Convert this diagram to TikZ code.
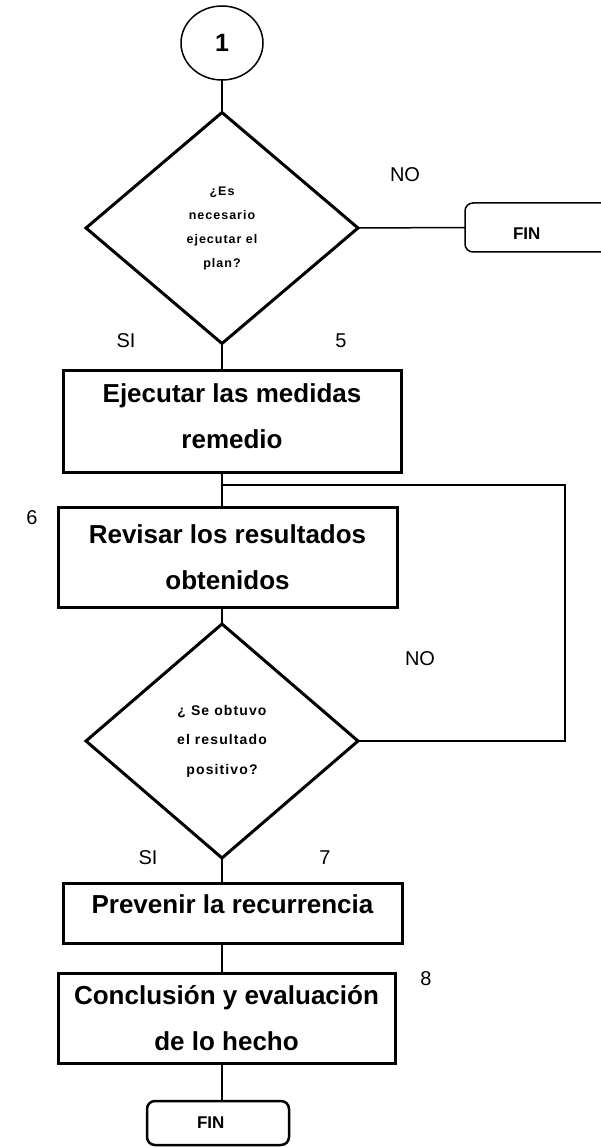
\documentclass[tikz,border=0pt]{standalone}
\usepackage{fontspec}
\setmainfont{Liberation Sans}
\usetikzlibrary{shapes.geometric}
\begin{document}
\begin{tikzpicture}[x=1pt,y=-1pt,
  boxst/.style={draw, line width=3pt, rectangle, inner sep=0pt, outer sep=0pt, align=center, font=\fontsize{26}{46}\selectfont\bfseries},
  decst/.style={draw, line width=3pt, diamond, inner sep=0pt, outer sep=0pt, align=center},
  conn/.style={line width=1.5pt},
  lab/.style={font=\fontsize{20}{24}\selectfont},
  finst/.style={draw, rounded corners=8pt, rectangle, font=\fontsize{17}{20}\selectfont\bfseries, outer sep=0pt, align=left, inner ysep=0pt}
]
\useasboundingbox (0,0) rectangle (600,1147);
\fill[white] (0,0) rectangle (600,1147);

\node[ellipse, draw, line width=1.5pt, minimum width=82pt, minimum height=74pt, inner sep=0pt, outer sep=0pt, font=\fontsize{25}{30}\selectfont\bfseries] (c1) at (222,43) {1};

\node[decst, minimum width=272pt, minimum height=231pt, font=\fontsize{12.5}{24}\selectfont\bfseries\addfontfeature{LetterSpace=8}] (d1) at (222,228) {¿Es\\necesario\\ejecutar el\\plan?};

\node[finst, line width=1.5pt, anchor=west, inner xsep=48pt, text width=74pt, minimum height=49pt, text height=24pt, text depth=0pt] (f1) at (465,227.5) {FIN};

\node[boxst, minimum width=338pt, minimum height=102pt, text height=64pt, text depth=10pt] (b1) at (232,421) {Ejecutar las medidas\\remedio};
\node[boxst, minimum width=339pt, minimum height=100pt] (b2) at (227.5,557) {Revisar los resultados\\obtenidos};

\node[decst, minimum width=272pt, minimum height=234pt, font=\fontsize{14}{29.5}\selectfont\bfseries\addfontfeature{LetterSpace=8}] (d2) at (222,741) {¿ Se obtuvo\\el resultado\\positivo?};

\node[boxst, minimum width=339pt, minimum height=60pt, text height=18pt, text depth=18pt] (b3) at (232.5,913) {Prevenir la recurrencia};
\node[boxst, minimum width=337pt, minimum height=90pt] (b4) at (226.5,1018) {Conclusión y evaluación\\de lo hecho};

\node[finst, line width=2.5pt, inner xsep=50pt, text width=42pt, minimum height=44pt] (f2) at (218,1123) {FIN};

\coordinate (ax) at (222,0);
\coordinate (jn) at (222,485);
\coordinate (lc) at (565,741);

\draw[conn] (c1.south) -- (d1.north);
\draw[conn] (d1.east) -- (f1.west);
\draw[conn] (d1.south) -- (ax |- b1.north);
\draw[conn] (ax |- b1.south) -- (ax |- b2.north);
\draw[conn] (d2.east) -- (lc) |- (jn);
\draw[conn] (ax |- b2.south) -- (d2.north);
\draw[conn] (d2.south) -- (ax |- b3.north);
\draw[conn] (ax |- b3.south) -- (ax |- b4.north);
\draw[conn] (ax |- b4.south) -- (ax |- f2.north);

\node[lab] (no1) at (405,175) {NO};
\node[lab] (si1) at (126,341) {SI};
\node[lab] (n5) at (341,341) {5};
\node[lab] (n6) at (32,518) {6};
\node[lab] (no2) at (420,659) {NO};
\node[lab] (si2) at (148,858) {SI};
\node[lab] (n7) at (325,858) {7};
\node[lab] (n8) at (426,979) {8};
\end{tikzpicture}
\end{document}
